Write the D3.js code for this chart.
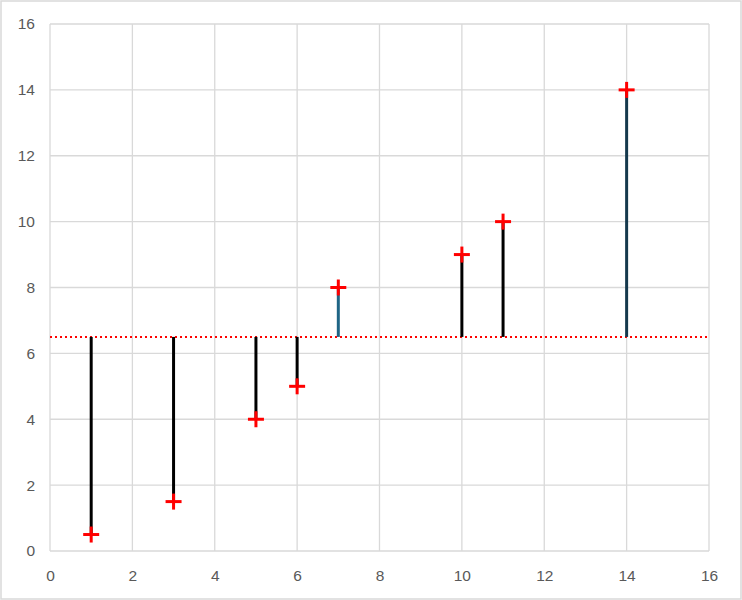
<!DOCTYPE html>
<html>
<head>
<meta charset="utf-8">
<script src="https://cdn.jsdelivr.net/npm/d3@7"></script>
<style>
  body { margin: 0; background: #fff; }
  text { font-family: "Liberation Sans", "Open Sans", sans-serif; }
</style>
</head>
<body>
<div id="chart"></div>
<script>
/*chart values*/
var xValues = [1, 3, 5, 6, 7, 10, 11, 14];
var yValues = [0.5, 1.5, 4, 5, 8, 9, 10, 14];
var meanValue = 6.5;
var xTicks = [0, 2, 4, 6, 8, 10, 12, 14, 16];
var yTicks = [0, 2, 4, 6, 8, 10, 12, 14, 16];

/*stem colours, one per point*/
var stemColors = ["#000", "#000", "#000", "#000", "#1f6585", "#000", "#000", "#15394d"];

var svgWidth = 742;
var svgHeight = 600;
var margin = { top: 24, right: 33, bottom: 49, left: 50 };
var width = svgWidth - margin.left - margin.right;
var height = svgHeight - margin.top - margin.bottom;

var svg = d3.select("#chart").append("svg")
  .attr("width", svgWidth)
  .attr("height", svgHeight);

/*outer chart border*/
svg.append("rect")
  .attr("x", 1).attr("y", 1)
  .attr("width", svgWidth - 2).attr("height", svgHeight - 2)
  .attr("fill", "#fff")
  .attr("stroke", "#d9d9d9")
  .attr("stroke-width", 1.5);

var g = svg.append("g")
  .attr("transform", `translate(${margin.left}, ${margin.top})`);

var xScale = d3.scaleLinear().domain([0, 16]).range([0, width]);
var yScale = d3.scaleLinear().domain([0, 16]).range([height, 0]);

/*gridlines*/
g.selectAll(".vgrid").data(xTicks).enter().append("line")
  .attr("x1", d => xScale(d)).attr("x2", d => xScale(d))
  .attr("y1", 0).attr("y2", height)
  .attr("stroke", "#d9d9d9").attr("stroke-width", 1.3);

g.selectAll(".hgrid").data(yTicks).enter().append("line")
  .attr("x1", 0).attr("x2", width)
  .attr("y1", d => yScale(d)).attr("y2", d => yScale(d))
  .attr("stroke", "#d9d9d9").attr("stroke-width", 1.3);

/*axes, labels only*/
var bottomAxis = d3.axisBottom(xScale).tickValues(xTicks).tickSize(0).tickPadding(19);
var leftAxis = d3.axisLeft(yScale).tickValues(yTicks).tickSize(0).tickPadding(15);

g.append("g")
  .attr("transform", `translate(0,${height})`)
  .call(bottomAxis)
  .call(a => a.select(".domain").remove())
  .selectAll("text").attr("fill", "#595959").style("font-size", "15.5px");

g.append("g")
  .call(leftAxis)
  .call(a => a.select(".domain").remove())
  .selectAll("text").attr("fill", "#595959").style("font-size", "15.5px");

/*mean line*/
g.append("line")
  .attr("x1", 0).attr("x2", width - 2)
  .attr("y1", yScale(meanValue)).attr("y2", yScale(meanValue))
  .attr("stroke", "#ff0000").attr("stroke-width", 2)
  .attr("stroke-dasharray", "2,3");

/*stems from the mean to each point*/
g.selectAll(".stem").data(xValues).enter().append("line")
  .attr("x1", d => xScale(d)).attr("x2", d => xScale(d))
  .attr("y1", yScale(meanValue))
  .attr("y2", (d, i) => yScale(yValues[i]))
  .attr("stroke", (d, i) => stemColors[i])
  .attr("stroke-width", 3);

/*plus markers*/
var s = 8;
var marker = g.selectAll(".pt").data(xValues).enter().append("g")
  .attr("transform", (d, i) => `translate(${xScale(d)},${yScale(yValues[i])})`);
marker.append("line").attr("x1", -s).attr("x2", s).attr("y1", 0).attr("y2", 0)
  .attr("stroke", "#ff0000").attr("stroke-width", 3);
marker.append("line").attr("x1", 0).attr("x2", 0).attr("y1", -s).attr("y2", s)
  .attr("stroke", "#ff0000").attr("stroke-width", 3);
</script>
</body>
</html>
